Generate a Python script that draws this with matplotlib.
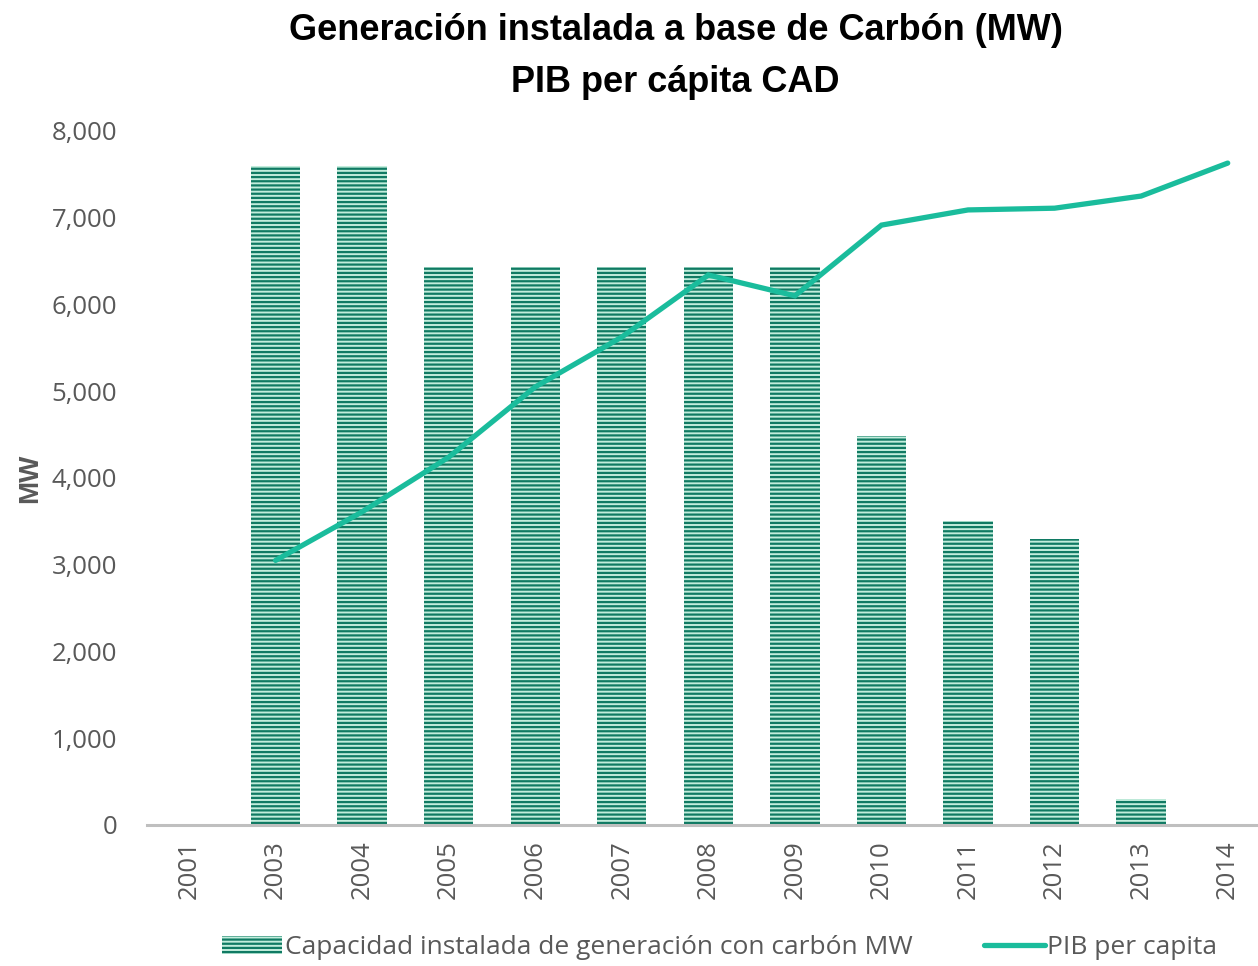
import numpy as np
import matplotlib

matplotlib.use("Agg")
import matplotlib.pyplot as plt
from matplotlib.lines import Line2D
from matplotlib.patches import Patch

# datos
years = ["2001", "2003", "2004", "2005", "2006", "2007", "2008",
         "2009", "2010", "2011", "2012", "2013", "2014"]
capacidad_mw = [0, 7600, 7600, 6430, 6430, 6430, 6430,
                6430, 4480, 3500, 3300, 300, 0]
pib_per_capita = [np.nan, 3050, 3610, 4240, 5050, 5625, 6340,
                  6100, 6915, 7090, 7110, 7250, 7630]
y_ticks = [0, 1000, 2000, 3000, 4000, 5000, 6000, 7000, 8000]

title_lines = ["Generación instalada a base de Carbón (MW)", "PIB per cápita CAD"]
bar_label = "Capacidad instalada de generación con carbón MW"
line_label = "PIB per capita"

dark_green = "#107a63"
light_green = "#c2eddc"
line_color = "#1abc9c"
text_gray = "#595959"

plt.rcParams["font.family"] = ["Open Sans", "DejaVu Sans"]
plt.rcParams["hatch.linewidth"] = 1.6
plt.rcParams["hatch.color"] = dark_green

fig = plt.figure(figsize=(12.58, 9.66), dpi=100)
ax = fig.add_axes([0.1169, 0.146, 0.8831, 0.7184])

x = np.arange(len(years))
ax.bar(x, capacidad_mw, width=0.57, color=light_green, edgecolor=dark_green,
       linewidth=0, hatch="----", zorder=2)
ax.plot(x, pib_per_capita, color=line_color, linewidth=3.8,
        solid_capstyle="round", solid_joinstyle="miter", zorder=3)

ax.set_xlim(-0.485, 12.35)
ax.set_ylim(0, 8000)
ax.set_yticks(y_ticks)
ax.set_yticklabels([f"{v:,}" for v in y_ticks], fontsize=18.5, color=text_gray)
ax.set_xticks(x)
ax.set_xticklabels(years, rotation=90, fontsize=18.5, color=text_gray)
ax.tick_params(axis="y", length=0, pad=21.5)
ax.tick_params(axis="x", length=0, pad=11)

for side in ["top", "right", "left"]:
    ax.spines[side].set_visible(False)
ax.spines["bottom"].set_color("#bfbfbf")
ax.spines["bottom"].set_linewidth(2.2)

ax.set_ylabel("MW", fontsize=20, fontweight="bold", color=text_gray,
              family=["Liberation Sans", "DejaVu Sans"], labelpad=6)

title_font = ["Liberation Sans Narrow", "Liberation Sans", "DejaVu Sans"]
fig.text(0.537, 0.987, title_lines[0], ha="center", va="top", fontsize=26,
         fontweight="bold", family=title_font)
fig.text(0.537, 0.933, title_lines[1], ha="center", va="top", fontsize=26,
         fontweight="bold", family=title_font)

handles = [
    Patch(facecolor=light_green, edgecolor=dark_green, linewidth=0, hatch="----"),
    Line2D([0], [0], color=line_color, linewidth=3.8, solid_capstyle="round"),
]
leg = fig.legend(handles, [bar_label, line_label], loc="center",
                 bbox_to_anchor=(0.572, 0.019), ncol=2, frameon=False,
                 fontsize=19, handlelength=2.3, handletextpad=0.1,
                 columnspacing=2.7)
for t in leg.get_texts():
    t.set_color(text_gray)

fig.savefig("out.png", dpi=100)
